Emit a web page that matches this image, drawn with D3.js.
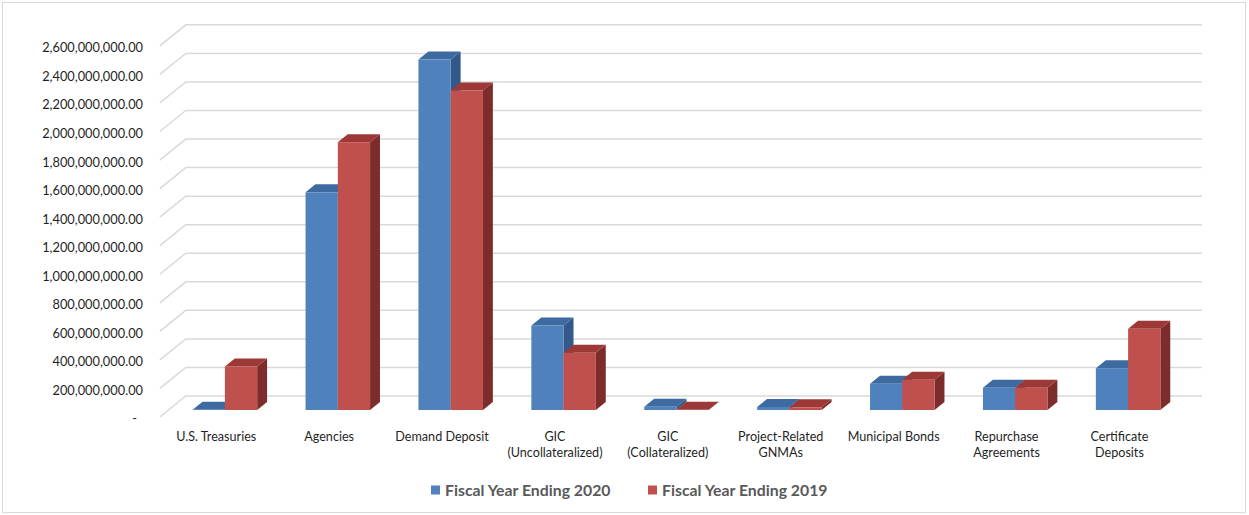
<!DOCTYPE html>
<html>
<head>
<meta charset="utf-8">
<script src="https://cdn.jsdelivr.net/npm/d3@7"></script>
<style>
  html, body { margin: 0; padding: 0; background: #fff; }
  svg { display: block; }
  text { font-family: Lato, "Liberation Sans", Arial, sans-serif; }
</style>
</head>
<body>
<svg id="chart" width="1249" height="515"></svg>
<script>
// Investment holdings by type, two fiscal years
const categories = [
  ["U.S. Treasuries"],
  ["Agencies"],
  ["Demand Deposit"],
  ["GIC", "(Uncollateralized)"],
  ["GIC", "(Collateralized)"],
  ["Project-Related", "GNMAs"],
  ["Municipal Bonds"],
  ["Repurchase", "Agreements"],
  ["Certificate", "Deposits"]
];
const seriesNames = ["Fiscal Year Ending 2020", "Fiscal Year Ending 2019"];
const fy2020 = [2e6, 1525e6, 2455e6, 592e6, 22e6, 21e6, 184e6, 156e6, 293e6];
const fy2019 = [305e6, 1876e6, 2238e6, 401e6, 2e6, 19e6, 212e6, 156e6, 569e6];
const yTicks = [0, 200e6, 400e6, 600e6, 800e6, 1000e6, 1200e6, 1400e6,
                1600e6, 1800e6, 2000e6, 2200e6, 2400e6, 2600e6];

const palette = [
  { front: "#4f81bd", top: "#3d6aa1", side: "#33598a" },
  { front: "#c0504d", top: "#9c3835", side: "#7c2d2b" }
];

const svg = d3.select("#chart");

// outer chart border
svg.append("rect")
  .attr("x", 2.5).attr("y", 2.5).attr("width", 1243).attr("height", 510)
  .attr("fill", "#fff").attr("stroke", "#d9d9d9").attr("stroke-width", 1);

// oblique 3D projection: floor depth vector, bars sit inside the floor depth
const depth = { dx: 26, dy: -21 };
const barDepthFrom = 0.333, barDepthTo = 0.714;

const x = d3.scaleBand()
  .domain(d3.range(categories.length))
  .range([159.8, 1175.9])
  .paddingInner(0.4286)
  .paddingOuter(0.2143);
const xInner = d3.scaleBand()
  .domain([0, 1])
  .range([0, x.bandwidth()]);

const y = d3.scaleLinear()
  .domain([0, 2600e6])
  .range([417, 417 - 13 * 28.55]);

const gridG = svg.append("g")
  .attr("fill", "none").attr("stroke", "#d9d9d9").attr("stroke-width", 1.5);

const [fx0, fx1] = x.range();
yTicks.forEach(v => {
  const yf = y(v);
  gridG.append("path")
    .attr("d", `M${fx0},${yf} L${fx0 + depth.dx},${yf + depth.dy} L${fx1 + depth.dx},${yf + depth.dy}`);
});

// y-axis labels
const fmt = d3.format(",.2f");
svg.append("g")
  .selectAll("text")
  .data(yTicks)
  .join("text")
  .attr("x", d => d === 0 ? 137 : 143)
  .attr("y", d => y(d) + 2)
  .attr("dy", "0.35em")
  .attr("text-anchor", "end")
  .attr("font-size", 12.8)
  .attr("fill", "#1f1f1f")
  .text(d => d === 0 ? "-" : fmt(d));

// bars
const offX = depth.dx * barDepthFrom, offY = depth.dy * barDepthFrom;
const bdx = depth.dx * (barDepthTo - barDepthFrom);
const bdy = depth.dy * (barDepthTo - barDepthFrom);
const base = y(0) + offY;

const barsG = svg.append("g");
const seriesData = [fy2020, fy2019];
categories.forEach((c, i) => {
  seriesData.forEach((vals, s) => {
    const v = vals[i];
    const x0 = x(i) + xInner(s) + offX;
    const x1 = x0 + xInner.bandwidth();
    const yt = y(v) + offY;
    const col = palette[s];
    const g = barsG.append("g");
    // side face
    g.append("path")
      .attr("d", `M${x1},${base} L${x1 + bdx},${base + bdy} L${x1 + bdx},${yt + bdy} L${x1},${yt} Z`)
      .attr("fill", col.side);
    // top face
    g.append("path")
      .attr("d", `M${x0},${yt} L${x0 + bdx},${yt + bdy} L${x1 + bdx},${yt + bdy} L${x1},${yt} Z`)
      .attr("fill", col.top);
    // front face
    g.append("rect")
      .attr("x", x0).attr("y", yt)
      .attr("width", x1 - x0).attr("height", Math.max(0, base - yt))
      .attr("fill", col.front);
  });
});

// category labels
const catG = svg.append("g")
  .attr("font-size", 12.6).attr("fill", "#1f1f1f").attr("text-anchor", "middle");
categories.forEach((lines, i) => {
  const cx = x(i) + x.bandwidth() / 2;
  const t = catG.append("text").attr("x", cx).attr("y", 440.5);
  lines.forEach((ln, k) => {
    t.append("tspan").attr("x", cx).attr("dy", k === 0 ? 0 : 16.5).text(ln);
  });
});

// legend
const legend = svg.append("g").attr("font-size", 15.8).attr("font-weight", "bold").attr("fill", "#595959");
const legendItems = [
  { x: 431, color: palette[0].front, name: seriesNames[0] },
  { x: 648, color: palette[1].front, name: seriesNames[1] }
];
legendItems.forEach(it => {
  legend.append("rect").attr("x", it.x).attr("y", 485.5).attr("width", 9).attr("height", 9).attr("fill", it.color);
  legend.append("text").attr("x", it.x + 14).attr("y", 495.5).text(it.name);
});
</script>
</body>
</html>
